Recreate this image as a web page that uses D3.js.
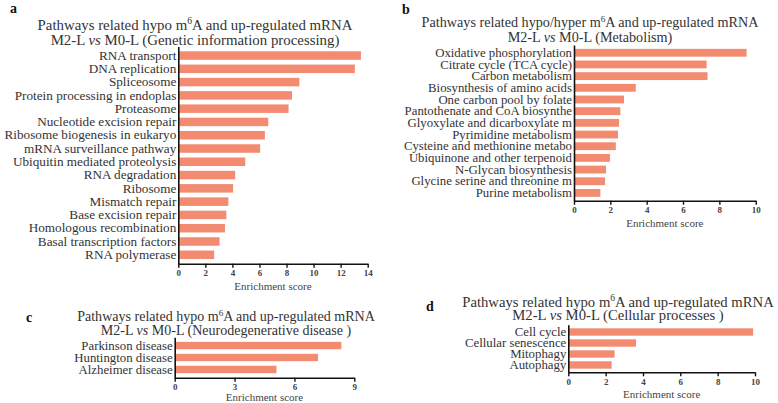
<!DOCTYPE html>
<html>
<head>
<meta charset="utf-8">
<script src="https://cdn.jsdelivr.net/npm/d3@7"></script>
<style>
  body { margin: 0; background: #fff; }
  svg { display: block; }
  text { font-family: "Liberation Serif", "DejaVu Serif", serif; fill: #333; }
</style>
</head>
<body>
<svg id="chart" width="778" height="403"></svg>
<script>
// data
const aCategories = ["RNA transport", "DNA replication", "Spliceosome", "Protein processing in endoplas",
  "Proteasome", "Nucleotide excision repair", "Ribosome biogenesis in eukaryo", "mRNA surveillance pathway",
  "Ubiquitin mediated proteolysis", "RNA degradation", "Ribosome", "Mismatch repair", "Base excision repair",
  "Homologous recombination", "Basal transcription factors", "RNA polymerase"];
const aValues = [13.5, 13.05, 8.95, 8.4, 8.15, 6.65, 6.4, 6.05, 4.95, 4.2, 4.05, 3.7, 3.55, 3.45, 3.05, 2.65];
const aTicks = [0, 2, 4, 6, 8, 10, 12, 14];

const bCategories = ["Oxidative phosphorylation", "Citrate cycle (TCA cycle)", "Carbon metabolism",
  "Biosynthesis of amino acids", "One carbon pool by folate", "Pantothenate and CoA biosynthe",
  "Glyoxylate and dicarboxylate m", "Pyrimidine metabolism", "Cysteine and methionine metabo",
  "Ubiquinone and other terpenoid", "N-Glycan biosynthesis", "Glycine serine and threonine m", "Purine metabolism"];
const bValues = [9.5, 7.3, 7.35, 3.4, 2.75, 2.55, 2.48, 2.42, 2.3, 1.98, 1.76, 1.71, 1.45];
const bTicks = [0, 2, 4, 6, 8, 10];

const cCategories = ["Parkinson disease", "Huntington disease", "Alzheimer disease"];
const cValues = [8.35, 7.18, 5.1];
const cTicks = [0, 3, 6, 9];

const dCategories = ["Cell cycle", "Cellular senescence", "Mitophagy", "Autophagy"];
const dValues = [9.9, 3.63, 2.48, 2.32];
const dTicks = [0, 2, 4, 6, 8, 10];

const barColor = "#f28b70";
const svg = d3.select("#chart");

function drawPanel(p) {
  const g = svg.append("g").attr("class", "panel-" + p.letter);

  // panel letter
  g.append("text").attr("x", p.letterX).attr("y", p.letterY)
    .attr("font-size", 14).attr("font-weight", "bold").style("fill", "#111")
    .text(p.letter);

  // title, two lines, with superscript 6 and italic vs
  const t1 = g.append("text").attr("x", p.titleX).attr("y", p.title1Y)
    .attr("text-anchor", "middle").attr("font-size", p.titleSize);
  t1.append("tspan").text(p.titleHead + " m");
  t1.append("tspan").attr("class", "sup").attr("dy", -p.titleSize * 0.38).text("6");
  t1.append("tspan").attr("class", "after").attr("dy", p.titleSize * 0.38).text("A and up-regulated mRNA");
  const t2 = g.append("text").attr("x", p.titleX).attr("y", p.title2Y)
    .attr("text-anchor", "middle").attr("font-size", p.titleSize);
  t2.append("tspan").text("M2-L ");
  t2.append("tspan").attr("font-style", "italic").text("vs");
  t2.append("tspan").text(" M0-L (" + p.titleTail + ")");
  t1.select(".sup").attr("font-size", p.titleSize * 0.65);

  // shrink/grow the title font so line 1 is as wide as in the figure
  const w = t1.node().getComputedTextLength();
  const fs = p.titleSize * p.title1W / w;
  [t1, t2].forEach(t => t.attr("font-size", fs));
  t1.select(".sup").attr("font-size", fs * 0.65).attr("dy", -fs * 0.38);
  t1.select(".after").attr("dy", fs * 0.38);

  const x = d3.scaleLinear().domain(p.domain).range([p.x0, p.x1]);
  const y = d3.scaleBand().domain(p.categories).range([p.yTop, p.yBottom]).padding(p.pad);

  g.selectAll("rect.bar").data(p.values).enter().append("rect")
    .attr("class", "bar")
    .attr("x", x(0) + 1)
    .attr("y", (d, i) => y(p.categories[i]))
    .attr("width", d => x(d) - x(0) - 1)
    .attr("height", y.bandwidth())
    .attr("fill", barColor);

  // category axis
  const yAxis = g.append("g").attr("transform", "translate(" + p.x0 + ",0)")
    .attr("font-family", '"Liberation Serif", serif')
    .call(d3.axisLeft(y).tickSize(0).tickPadding(2));
  yAxis.attr("font-family", '"Liberation Serif", serif');
  yAxis.select(".domain").attr("stroke", "#111").attr("stroke-width", 1.6);
  yAxis.selectAll("text").attr("font-size", p.labelSize).style("fill", "#333");

  // value axis
  const xAxis = g.append("g").attr("transform", "translate(0," + p.yBottom + ")")
    .call(d3.axisBottom(x).tickValues(p.ticks).tickSize(4).tickSizeOuter(0).tickPadding(2));
  xAxis.attr("font-family", '"Liberation Serif", serif');
  xAxis.select(".domain").attr("stroke", "#111").attr("stroke-width", 1.6);
  xAxis.selectAll(".tick line").attr("stroke", "#111").attr("stroke-width", 1.4);
  xAxis.selectAll("text").attr("font-size", 9).attr("font-weight", "bold").style("fill", "#444");

  g.append("text").attr("x", (p.x0 + p.x1) / 2).attr("y", p.xTitleY)
    .attr("text-anchor", "middle").attr("font-size", 11).style("fill", "#444")
    .text("Enrichment score");
}

drawPanel({
  letter: "a", letterX: 10, letterY: 13,
  titleHead: "Pathways related hypo", titleTail: "Genetic information processing",
  titleX: 195, title1Y: 30, title2Y: 44.5, titleSize: 15.5, title1W: 315,
  categories: aCategories, values: aValues, ticks: aTicks, domain: [0, 14],
  x0: 178.3, x1: 367.7, yTop: 46.5, yBottom: 263.8, pad: 0.36, labelSize: 13.2, xTitleY: 290
});

drawPanel({
  letter: "b", letterX: 402, letterY: 14,
  titleHead: "Pathways related hypo/hyper", titleTail: "Metabolism",
  titleX: 590, title1Y: 27, title2Y: 41.5, titleSize: 15, title1W: 337,
  categories: bCategories, values: bValues, ticks: bTicks, domain: [0, 10],
  x0: 574, x1: 755.7, yTop: 45, yBottom: 200.7, pad: 0.33, labelSize: 12.8, xTitleY: 227
});

drawPanel({
  letter: "c", letterX: 26, letterY: 322,
  titleHead: "Pathways related hypo", titleTail: "Neurodegenerative disease ",
  titleX: 226, title1Y: 321, title2Y: 334.5, titleSize: 14.5, title1W: 298,
  categories: cCategories, values: cValues, ticks: cTicks, domain: [0, 9],
  x0: 174.7, x1: 354.3, yTop: 337.3, yBottom: 377.7, pad: 0.38, labelSize: 12.8, xTitleY: 401
});

drawPanel({
  letter: "d", letterX: 426, letterY: 311,
  titleHead: "Pathways related hypo", titleTail: "Cellular processes ",
  titleX: 618, title1Y: 307, title2Y: 320, titleSize: 14.5, title1W: 312,
  categories: dCategories, values: dValues, ticks: dTicks, domain: [0, 10],
  x0: 568.3, x1: 755, yTop: 324.7, yBottom: 372.3, pad: 0.33, labelSize: 12.8, xTitleY: 398
});
</script>
</body>
</html>
